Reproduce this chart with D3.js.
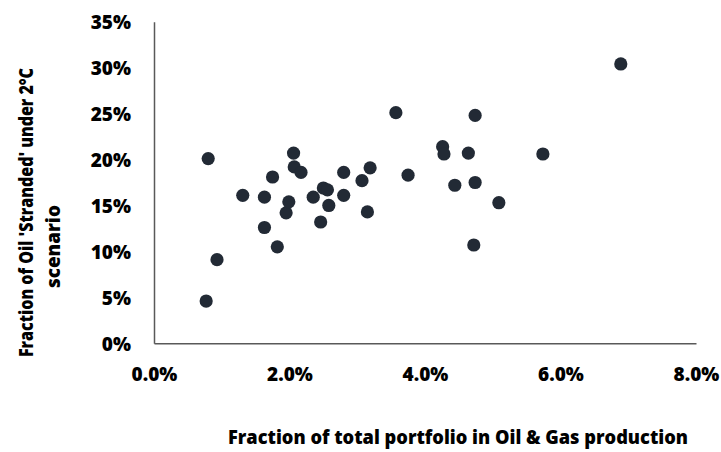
<!DOCTYPE html>
<html>
<head>
<meta charset="utf-8">
<script src="https://cdn.jsdelivr.net/npm/d3@7"></script>
<style>
  html, body { margin: 0; padding: 0; background: #fff; }
  svg { display: block; }
  text { font-family: "Open Sans", sans-serif; font-weight: 800; fill: #000; }
</style>
</head>
<body>
<script>
// Data: fraction of portfolio in Oil & Gas (%) vs fraction of oil stranded (%)
const portfolioPct = [0.77, 0.80, 0.93, 1.31, 1.63, 1.63, 1.75, 1.82, 1.95, 1.99,
                      2.06, 2.07, 2.17, 2.35, 2.46, 2.50, 2.56, 2.58, 2.80, 2.80,
                      3.07, 3.15, 3.19, 3.57, 3.75, 4.26, 4.28, 4.44, 4.64, 4.72,
                      4.74, 4.74, 5.09, 5.74, 6.89];
const strandedPct = [4.6, 20.1, 9.1, 16.1, 15.9, 12.6, 18.1, 10.5, 14.2, 15.4,
                     20.7, 19.2, 18.6, 15.9, 13.2, 16.9, 16.7, 15.0, 18.6, 16.1,
                     17.7, 14.3, 19.1, 25.1, 18.3, 21.4, 20.6, 17.2, 20.7, 10.7,
                     24.8, 17.5, 15.3, 20.6, 30.4];
const xTicks = [0, 2, 4, 6, 8];
const yTicks = [0, 5, 10, 15, 20, 25, 30, 35];
const xTitle = "Fraction of total portfolio in Oil & Gas production";
const yTitle1 = "Fraction of Oil 'Stranded' under 2°C";
const yTitle2 = "scenario";

const W = 721, H = 452;
const mLeft = 154, mRight = 696, mTop = 21.7, mBottom = 343.3;

const svg = d3.select("body").append("svg").attr("width", W).attr("height", H);

const x = d3.scaleLinear().domain([0, 8]).range([mLeft, mRight]);
const y = d3.scaleLinear().domain([0, 35]).range([mBottom, mTop]);

// Axes
const xAxis = d3.axisBottom(x).tickValues(xTicks).tickSize(0).tickPadding(0)
  .tickFormat(d => d.toFixed(1) + "%");
const gx = svg.append("g").attr("transform", `translate(0,${mBottom})`).call(xAxis);
gx.select(".domain").attr("stroke", "#595959").attr("stroke-width", 1.5);
gx.selectAll("text").attr("y", 37.5).attr("dy", null)
  .style("font-size", "19px").style("font-family", "'Open Sans', sans-serif")
  .style("font-weight", "800").attr("fill", "#000");

const yAxis = d3.axisLeft(y).tickValues(yTicks).tickSize(0).tickPadding(0)
  .tickFormat(d => d + "%");
const gy = svg.append("g").attr("transform", `translate(${mLeft},0)`).call(yAxis);
gy.select(".domain").attr("stroke", "#595959").attr("stroke-width", 1.5);
gy.selectAll("text").attr("x", -23).attr("dy", "0.38em")
  .style("font-size", "19px").style("font-family", "'Open Sans', sans-serif")
  .style("font-weight", "800").attr("fill", "#000");

// Points
svg.append("g").selectAll("circle")
  .data(portfolioPct.map((v, i) => [v, strandedPct[i]]))
  .join("circle")
  .attr("cx", d => x(d[0]))
  .attr("cy", d => y(d[1]))
  .attr("r", 6.6)
  .attr("fill", "#222a35");

// Titles
svg.append("text")
  .attr("x", 458).attr("y", 444)
  .attr("text-anchor", "middle")
  .attr("textLength", 460).attr("lengthAdjust", "spacingAndGlyphs")
  .style("font-size", "19px")
  .text(xTitle);

svg.append("text")
  .attr("transform", "translate(32.5,212.5) rotate(-90)")
  .attr("text-anchor", "middle")
  .attr("textLength", 289).attr("lengthAdjust", "spacingAndGlyphs")
  .style("font-size", "19px")
  .text(yTitle1);

svg.append("text")
  .attr("transform", "translate(60,246.5) rotate(-90)")
  .attr("text-anchor", "middle")
  .attr("textLength", 83).attr("lengthAdjust", "spacingAndGlyphs")
  .style("font-size", "19px")
  .text(yTitle2);
</script>
</body>
</html>
